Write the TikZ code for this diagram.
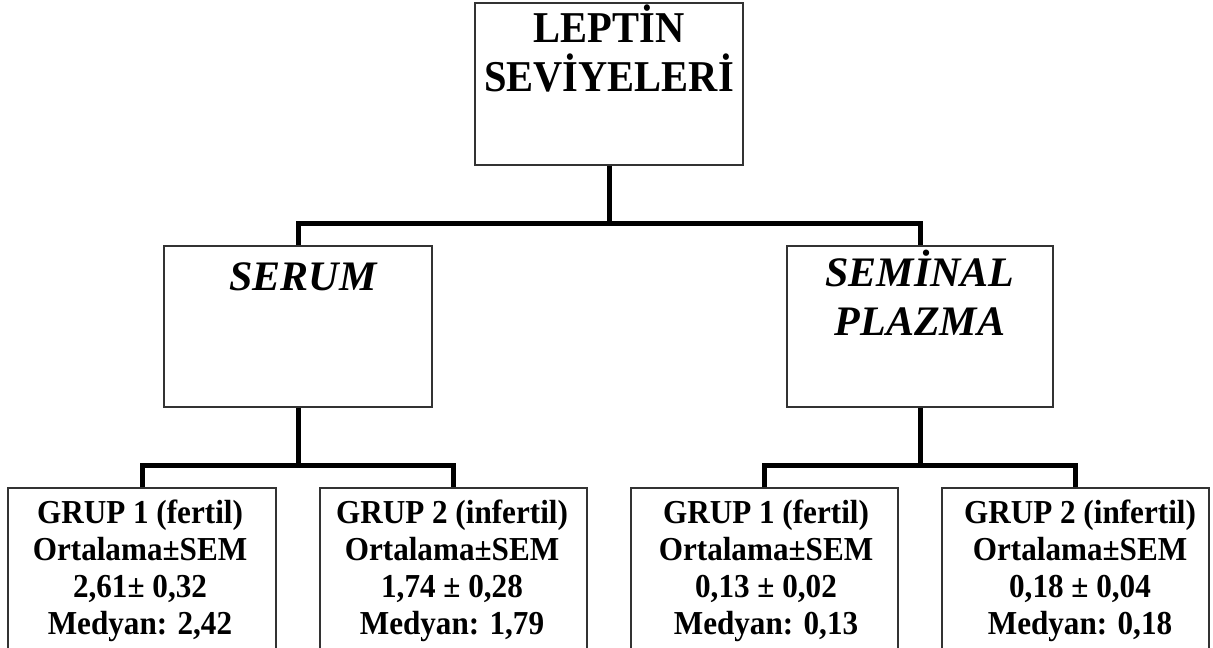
\documentclass[tikz,border=0pt]{standalone}
\usepackage{fontspec}
\setmainfont{Liberation Serif}
\newfontfamily\narrowfont[FakeStretch=0.93]{Liberation Serif}
\newfontfamily\topfont[FakeStretch=0.92]{Liberation Serif}
\begin{document}
\begin{tikzpicture}[x=1pt,y=-1pt,
  box/.style n args={2}{draw=black!80, line width=1.3pt, fill=white, inner sep=0pt,
    minimum width=#1pt, minimum height=#2pt},
  conn/.style={draw=black, line width=5pt, line join=miter},
  toptext/.style={anchor=north, inner sep=0pt, align=center,
    font=\topfont\fontsize{44}{49}\selectfont\bfseries},
  midtext/.style={anchor=north, inner sep=0pt, align=center,
    font=\fontsize{42}{49}\selectfont\bfseries\itshape},
  grptext/.style={anchor=north, inner sep=0pt, align=center,
    font=\narrowfont\fontsize{33.5}{37}\selectfont\bfseries}]
\useasboundingbox (0,0) rectangle (1213,648);
\clip (0,0) rectangle (1213,648);
\fill[white] (0,0) rectangle (1213,648);

% boxes
\node[box={268}{162}] (top) at (609,84) {};
\node[box={268}{161}] (serum) at (298,326.5) {};
\node[box={266}{161}] (seminal) at (920,326.5) {};
\node[box={268}{212}] (g1) at (142,594) {};
\node[box={267}{212}] (g2) at (453.5,594) {};
\node[box={267}{212}] (g3) at (764.5,594) {};
\node[box={267}{212}] (g4) at (1075.5,594) {};

% junction points
\coordinate (j1) at (609,223);
\coordinate (j2) at (298,465);
\coordinate (j3) at (920,465);

% connectors
\draw[conn] (top.south) -- (j1);
\draw[conn] (serum.north) |- (j1) -| (seminal.north);
\draw[conn] (serum.south) -- (j2);
\draw[conn] (g1.north) |- (j2) -| (g2.north);
\draw[conn] (seminal.south) -- (j3);
\draw[conn] (g3.north) |- (j3) -| (g4.north);

% texts
\node[toptext] (ttop) at (609,5) {LEPTİN\\SEVİYELERİ};
\node[midtext] (tserum) at (303,262) {SERUM};
\node[midtext] (tsem) at (920,250) {SEMİNAL\\PLAZMA};
\node[grptext] (t1) at (140,500) {GRUP 1 (fertil)\\Ortalama±SEM\\2,61± 0,32\\Medyan: 2,42};
\node[grptext] (t2) at (452,500) {GRUP 2 (infertil)\\Ortalama±SEM\\1,74 ± 0,28\\Medyan: 1,79};
\node[grptext] (t3) at (766,500) {GRUP 1 (fertil)\\Ortalama±SEM\\0,13 ± 0,02\\Medyan: 0,13};
\node[grptext] (t4) at (1080,500) {GRUP 2 (infertil)\\Ortalama±SEM\\0,18 ± 0,04\\Medyan: 0,18};
\end{tikzpicture}
\end{document}
